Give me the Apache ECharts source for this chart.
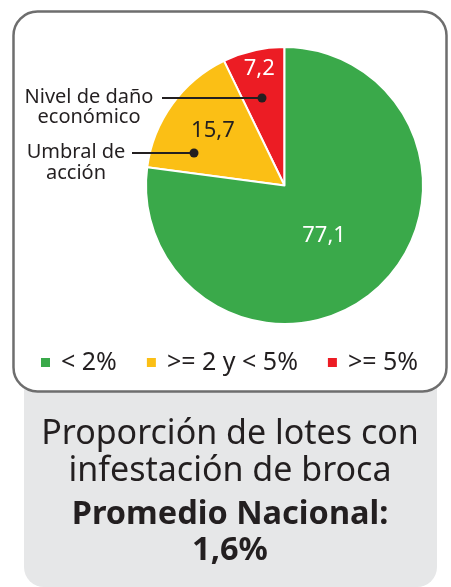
<!DOCTYPE html>
<html>
<head>
<meta charset="utf-8">
<script src="https://cdn.jsdelivr.net/npm/echarts@6/dist/echarts.min.js"></script>
<style>
html,body{margin:0;padding:0;background:#fff;}
#c{width:451px;height:587px;}
</style>
</head>
<body>
<div id="c"></div>
<script>
// Data
const categories = ['>= 5%', '>= 2 y < 5%', '< 2%'];
const values = [7.2, 15.7, 77.1];
const valueLabels = ['7,2', '15,7', '77,1'];
const legendOrder = ['< 2%', '>= 2 y < 5%', '>= 5%'];
const colors = ['#ec1c24', '#fbbf15', '#3aa94a'];
const labelColors = ['#ffffff', '#231f20', '#ffffff'];
const titleLines = ['Proporción de lotes con', 'infestación de broca'];
const subtitleLines = ['Promedio Nacional:', '1,6%'];
const annotations = [['Nivel de daño', 'económico'], ['Umbral de', 'acción']];

const FONT = '"Noto Sans", "Open Sans", sans-serif';
const INK = '#231f20';
const labelShift = [[-9, -46], [-13, -12], [-8, -4]];

const chart = echarts.init(document.getElementById('c'), null, {renderer: 'canvas'});

const graphic = [
  {type: 'rect', z: -10, shape: {x: 24, y: 300, width: 413, height: 287, r: [0, 0, 20, 20]}, style: {fill: '#e6e7e8'}},
  {type: 'rect', z: -5, shape: {x: 13.5, y: 11.5, width: 433, height: 380, r: 24}, style: {fill: '#ffffff', stroke: '#6e6e6e', lineWidth: 2.5}}
];
// title texts
const tstyles = [
  {t: titleLines[0], y: 451, w: 'normal', s: 34},
  {t: titleLines[1], y: 488, w: 'normal', s: 34},
  {t: subtitleLines[0], y: 531, w: 'bold', s: 32.5},
  {t: subtitleLines[1], y: 567, w: 'bold', s: 32.5}
];
tstyles.forEach(s => {
  graphic.push({type: 'text', z: 10, style: {text: s.t, x: 230, y: s.y, textAlign: 'center', textVerticalAlign: 'bottom', fontFamily: FONT, fontSize: s.s, fontWeight: s.w, fill: INK}});
});
// annotations
const ann = [
  {lines: annotations[0], cx: 89, y: [102, 122], lx0: 162, lx1: 262, ly: 98},
  {lines: annotations[1], cx: 76, y: [157, 178], lx0: 132, lx1: 194, ly: 153}
];
ann.forEach(a => {
  a.lines.forEach((t, i) => {
    graphic.push({type: 'text', z: 10, style: {text: t, x: a.cx, y: a.y[i] + 5, textAlign: 'center', textVerticalAlign: 'bottom', fontFamily: FONT, fontSize: 20, fill: INK}});
  });
  graphic.push({type: 'line', z: 20, shape: {x1: a.lx0, y1: a.ly, x2: a.lx1, y2: a.ly}, style: {stroke: INK, lineWidth: 2.2}});
  graphic.push({type: 'circle', z: 20, shape: {cx: a.lx1, cy: a.ly, r: 4.5}, style: {fill: INK}});
});

chart.setOption({
  animation: false,
  textStyle: {fontFamily: FONT},
  graphic: graphic,
  legend: {
    data: legendOrder,
    left: 39,
    top: 350,
    padding: 0,
    icon: 'rect',
    itemWidth: 11,
    itemHeight: 11,
    itemGap: 28,
    textStyle: {fontSize: 25, color: INK, fontFamily: FONT, padding: [0, 0, 0, 5]}
  },
  series: [{
    type: 'pie',
    center: [284.5, 185.5],
    radius: [0, 138.5],
    startAngle: 90,
    clockwise: false,
    silent: true,
    itemStyle: {borderColor: '#ffffff', borderWidth: 2},
    labelLine: {show: false},
    label: {show: true, position: 'inside', fontFamily: FONT, fontSize: 22},
    labelLayout: function (p) {
      const s = labelShift[p.dataIndex];
      return {dx: s[0], dy: s[1]};
    },
    data: categories.map((c, i) => ({
      name: c,
      value: values[i],
      itemStyle: {color: colors[i]},
      label: {formatter: valueLabels[i], color: labelColors[i]}
    }))
  }]
});
</script>
</body>
</html>
